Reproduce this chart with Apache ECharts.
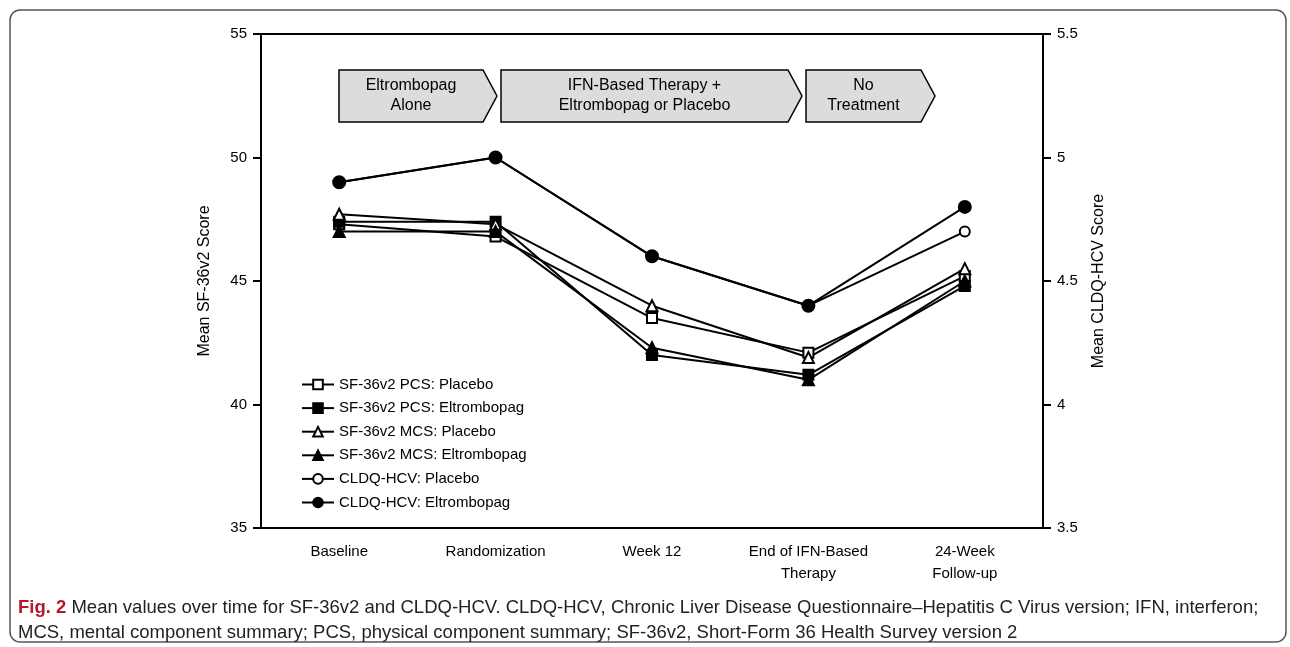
<!DOCTYPE html>
<html>
<head>
<meta charset="utf-8">
<script src="https://cdn.jsdelivr.net/npm/echarts@6/dist/echarts.min.js"></script>
<style>
    html, body { margin: 0; padding: 0; background: #fff; }
    #chart { width: 1290px; height: 647px; }
</style>
</head>
<body>
<div id="chart"></div>
<script>
const categories = ['Baseline', 'Randomization', 'Week 12', 'End of IFN-Based\nTherapy', '24-Week\nFollow-up'];
const leftTicks = [35, 55, 5];
const rightTicks = [3.5, 5.5, 0.5];

const pcsPlacebo = [47.3, 46.8, 43.5, 42.1, 45.2];
const pcsEltrombopag = [47.4, 47.4, 42.0, 41.2, 44.8];
const mcsPlacebo = [47.7, 47.3, 44.0, 41.9, 45.5];
const mcsEltrombopag = [47.0, 47.0, 42.3, 41.0, 45.0];
const cldqPlacebo = [4.9, 5.0, 4.6, 4.4, 4.7];
const cldqEltrombopag = [4.9, 5.0, 4.6, 4.4, 4.8];

const phases = ['Eltrombopag\nAlone', 'IFN-Based Therapy +\nEltrombopag or Placebo', 'No\nTreatment'];

const font = 'Liberation Sans, Arial, sans-serif';

function makeSeries(name, data, symbol, axis, size) {
    return {
        name: name,
        type: 'line',
        data: data,
        yAxisIndex: axis,
        symbol: symbol,
        symbolSize: size,
        showAllSymbol: true,
        lineStyle: { color: '#000', width: 2 },
        itemStyle: {
            color: '#000',
            borderColor: '#000',
            borderWidth: 2
        },
        emphasis: { disabled: true },
        animation: false
    };
}

// arrow boxes for the treatment phases
function arrowBox(x1, x2, text) {
    let top = 70, bottom = 122, tip = 14;
    let mid = (top + bottom) / 2;
    return {
        type: 'group',
        children: [{
            type: 'polygon',
            shape: {
                points: [[x1, top], [x2 - tip, top], [x2, mid], [x2 - tip, bottom], [x1, bottom]]
            },
            style: { fill: '#dcdcdc', stroke: '#000', lineWidth: 1.5 }
        }, {
            type: 'text',
            x: (x1 + x2 - tip) / 2,
            y: mid,
            style: {
                text: text,
                font: '16px ' + font,
                fill: '#000',
                align: 'center',
                verticalAlign: 'middle',
                lineHeight: 20
            }
        }]
    };
}

let chart = echarts.init(document.getElementById('chart'));
let option = {
    animation: false,
    textStyle: { fontFamily: font },
    grid: {
        left: 261,
        right: 247,
        top: 34,
        bottom: 119,
        show: true,
        borderColor: '#000',
        borderWidth: 2
    },
    legend: {
        orient: 'vertical',
        left: 296,
        top: 372,
        itemGap: 8.6,
        itemWidth: 32,
        itemHeight: 12,
        textStyle: { fontSize: 15, color: '#000', fontFamily: font },
        data: ['SF-36v2 PCS: Placebo', 'SF-36v2 PCS: Eltrombopag', 'SF-36v2 MCS: Placebo',
            'SF-36v2 MCS: Eltrombopag', 'CLDQ-HCV: Placebo', 'CLDQ-HCV: Eltrombopag']
    },
    xAxis: {
        type: 'category',
        data: categories,
        boundaryGap: true,
        axisLine: { lineStyle: { color: '#000', width: 2 } },
        axisTick: { alignWithLabel: true, length: 7, lineStyle: { color: '#000', width: 2 } },
        axisLabel: { color: '#000', fontSize: 15, margin: 13, lineHeight: 22, interval: 0 },
        splitLine: { show: false }
    },
    yAxis: [{
        type: 'value',
        min: leftTicks[0],
        max: leftTicks[1],
        interval: leftTicks[2],
        name: 'Mean SF-36v2 Score',
        nameLocation: 'middle',
        nameGap: 48,
        nameTextStyle: { fontSize: 16, color: '#000' },
        axisLine: { show: true, lineStyle: { color: '#000', width: 2 } },
        axisTick: { show: true, length: 8, lineStyle: { color: '#000', width: 2 } },
        axisLabel: { color: '#000', fontSize: 15, margin: 14 },
        splitLine: { show: false }
    }, {
        type: 'value',
        min: rightTicks[0],
        max: rightTicks[1],
        interval: rightTicks[2],
        position: 'right',
        name: 'Mean CLDQ-HCV Score',
        nameLocation: 'middle',
        nameGap: 48,
        nameRotate: 90,
        nameTextStyle: { fontSize: 16, color: '#000' },
        axisLine: { show: true, lineStyle: { color: '#000', width: 2 } },
        axisTick: { show: true, length: 8, lineStyle: { color: '#000', width: 2 } },
        axisLabel: { color: '#000', fontSize: 15, margin: 14 },
        splitLine: { show: false }
    }],
    series: [
        makeSeries('SF-36v2 PCS: Placebo', pcsPlacebo, 'emptyRect', 0, 10),
        makeSeries('SF-36v2 PCS: Eltrombopag', pcsEltrombopag, 'rect', 0, 10),
        makeSeries('SF-36v2 MCS: Placebo', mcsPlacebo, 'emptyTriangle', 0, 11),
        makeSeries('SF-36v2 MCS: Eltrombopag', mcsEltrombopag, 'triangle', 0, 11),
        makeSeries('CLDQ-HCV: Placebo', cldqPlacebo, 'emptyCircle', 1, 10),
        makeSeries('CLDQ-HCV: Eltrombopag', cldqEltrombopag, 'circle', 1, 12)
    ],
    graphic: [
        {
            type: 'rect',
            shape: { x: 10, y: 10, width: 1276, height: 632, r: 10 },
            style: { fill: 'none', stroke: '#555', lineWidth: 1.5 },
            silent: true
        },
        arrowBox(339, 497, phases[0]),
        arrowBox(501, 802, phases[1]),
        arrowBox(806, 935, phases[2]),
        {
            type: 'text',
            left: 18,
            top: 595,
            style: {
                text: '{b|Fig. 2} Mean values over time for SF-36v2 and CLDQ-HCV. CLDQ-HCV, Chronic Liver Disease Questionnaire\u2013Hepatitis C Virus version; IFN, interferon;\nMCS, mental component summary; PCS, physical component summary; SF-36v2, Short-Form 36 Health Survey version 2',
                font: '18.5px ' + font,
                fill: '#222',
                lineHeight: 25,
                rich: {
                    b: {
                        font: 'bold 18.5px ' + font,
                        fill: '#b5172d'
                    }
                }
            }
        }
    ]
};
chart.setOption(option);
</script>
</body>
</html>
